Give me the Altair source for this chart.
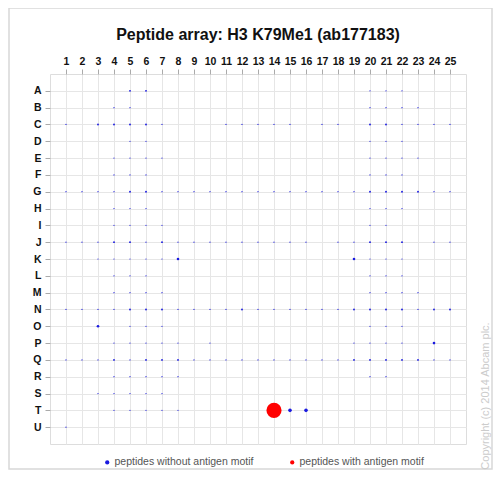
import altair as alt
import pandas as pd

row_labels = list("ABCDEFGHIJKLMNOPQRSTU")
col_labels = list(range(1, 26))

# signal level per spot (blue = peptides without antigen motif)
blue_levels = {
    "A": {5: 2, 6: 2, 20: 1, 21: 1, 22: 1},
    "B": {4: 1, 5: 1, 20: 1, 21: 1, 22: 1, 23: 1},
    "C": {1: 1, 3: 2, 4: 2, 5: 2, 6: 2, 7: 1, 11: 1, 12: 1, 13: 1, 14: 1, 15: 1, 17: 1, 18: 1,
          20: 2, 21: 2, 22: 1, 23: 1, 24: 1, 25: 1},
    "D": {5: 1, 6: 1, 20: 1, 21: 1, 22: 1},
    "E": {4: 1, 5: 1, 6: 1, 7: 1, 20: 1, 21: 1, 22: 1, 23: 1},
    "F": {4: 1, 5: 1, 6: 1, 20: 1, 21: 1, 22: 1},
    "G": {1: 1, 2: 1, 3: 1, 4: 1, 5: 2, 6: 2, 7: 1, 8: 1, 9: 1, 10: 1, 11: 1, 12: 1, 13: 1,
          14: 1, 15: 1, 16: 1, 17: 1, 18: 1, 19: 1, 20: 2, 21: 2, 22: 2, 23: 2, 24: 1, 25: 1},
    "H": {4: 1, 5: 1, 6: 1, 20: 1, 21: 1, 22: 1},
    "I": {4: 1, 5: 1, 6: 1, 7: 1, 20: 1, 21: 1},
    "J": {1: 1, 2: 1, 3: 1, 4: 2, 5: 2, 6: 1, 7: 2, 8: 1, 9: 1, 10: 1, 11: 1, 12: 1, 13: 1,
          14: 1, 15: 1, 16: 1, 18: 1, 19: 1, 20: 2, 21: 2, 22: 2, 24: 1, 25: 1},
    "K": {3: 1, 4: 1, 5: 1, 6: 1, 7: 1, 8: 3, 19: 3, 20: 1, 21: 1, 22: 1},
    "L": {4: 1, 5: 1, 6: 1, 20: 1, 21: 1, 22: 1},
    "M": {4: 1, 5: 1, 6: 1, 7: 1, 20: 1, 21: 1, 22: 1, 23: 1},
    "N": {1: 1, 2: 1, 3: 1, 4: 1, 5: 2, 6: 2, 7: 2, 8: 1, 9: 1, 10: 1, 11: 1, 12: 2, 13: 1,
          14: 1, 15: 1, 16: 1, 17: 1, 18: 1, 19: 2, 20: 2, 21: 2, 22: 2, 23: 1, 24: 2, 25: 2},
    "O": {3: 3, 5: 1, 6: 1, 7: 1, 20: 1, 21: 1, 22: 1},
    "P": {4: 1, 5: 1, 6: 1, 7: 1, 8: 1, 10: 1, 19: 1, 20: 1, 21: 1, 22: 1, 24: 3},
    "Q": {1: 1, 2: 1, 3: 1, 4: 2, 5: 1, 6: 2, 7: 2, 8: 2, 9: 1, 10: 1, 11: 1, 12: 1, 13: 1,
          14: 1, 15: 1, 16: 1, 17: 1, 18: 1, 19: 2, 20: 2, 21: 2, 22: 2, 23: 2, 24: 1, 25: 1},
    "R": {4: 1, 5: 1, 6: 1, 7: 1, 8: 1, 20: 1, 21: 1},
    "S": {3: 1, 4: 1, 5: 1, 6: 1, 7: 1},
    "T": {4: 1, 5: 1, 6: 1, 7: 1, 8: 1, 15: 4, 16: 4},
    "U": {1: 1},
}
level_signal = {1: 1.5, 2: 3.5, 3: 7, 4: 13}

# red = peptides with antigen motif
red_spots = [("T", 14, 230)]

groups = ["peptides without antigen motif", "peptides with antigen motif"]
title_text = "Peptide array:  H3 K79Me1 (ab177183)"
copyright_note = "Copyright (c) 2014 Abcam plc."

records = []
for r, spots in blue_levels.items():
    for c, lvl in spots.items():
        records.append({"row": row_labels.index(r) + 1, "col": c,
                        "signal": level_signal[lvl], "group": groups[0]})
for r, c, s in red_spots:
    records.append({"row": row_labels.index(r) + 1, "col": c, "signal": s, "group": groups[1]})
df = pd.DataFrame(records)

letters = "".join(row_labels)
FONT = "Liberation Sans"

points = alt.Chart(df).mark_circle(opacity=1).encode(
    x=alt.X("col:Q", scale=alt.Scale(domain=[0, 26], nice=False, zero=False),
            axis=alt.Axis(orient="top", values=col_labels, title=None, labelFont=FONT,
                          labelFontSize=10.5, labelFontWeight="bold", labelColor="#111",
                          labelPadding=3, tickSize=5, tickColor="#aaa", domain=False,
                          grid=True, gridColor="#e6e6e6", labelFlush=False)),
    y=alt.Y("row:Q", scale=alt.Scale(domain=[0, 22], nice=False, zero=False, reverse=True),
            axis=alt.Axis(orient="left", values=list(range(1, 22)), title=None,
                          labelExpr=f"substring('{letters}', datum.value - 1, datum.value)",
                          labelFont=FONT, labelFontSize=10.5, labelFontWeight="bold",
                          labelColor="#111", labelPadding=4, tickSize=5, tickColor="#aaa",
                          domain=False, grid=True, gridColor="#e6e6e6", labelFlush=False)),
    size=alt.Size("signal:Q", scale=None, legend=None),
    color=alt.Color("group:N",
                    scale=alt.Scale(domain=groups, range=["#1a1ae0", "#ff0000"]),
                    legend=alt.Legend(orient="none", legendX=52, legendY=383,
                                      direction="horizontal", title=None,
                                      symbolType="circle", symbolSize=18,
                                      symbolStrokeWidth=0, labelFont=FONT,
                                      labelFontSize=10.5, labelColor="#555",
                                      labelOffset=2, columnPadding=33)),
    order=alt.Order("signal:Q"),
)

title_mark = alt.Chart(pd.DataFrame({"t": [title_text]})).mark_text(
    align="center", baseline="middle", font=FONT, fontSize=16, fontWeight="bold", color="#111"
).encode(text="t:N", x=alt.value(208), y=alt.value(-39))

copyright_mark = alt.Chart(pd.DataFrame({"t": [copyright_note]})).mark_text(
    angle=270, align="center", baseline="middle", font=FONT, fontSize=11, color="#cccccc"
).encode(text="t:N", x=alt.value(436), y=alt.value(322))

frame = alt.Chart(pd.DataFrame({"a": [0]})).mark_rect(
    fill="transparent", stroke="#d8d8d8", strokeWidth=1.5
).encode(x=alt.value(-41), x2=alt.value(442), y=alt.value(-66), y2=alt.value(395))

chart = alt.layer(frame, points, title_mark, copyright_mark).properties(
    width=416, height=370,
    autosize=alt.AutoSizeParams(type="none"),
    padding={"left": 42, "top": 66, "right": 28, "bottom": 27},
).configure_view(stroke="#aaaaaa", strokeWidth=1.2).configure(background="white")

chart.save("out.html", embed_options={"renderer": "svg", "actions": False})
